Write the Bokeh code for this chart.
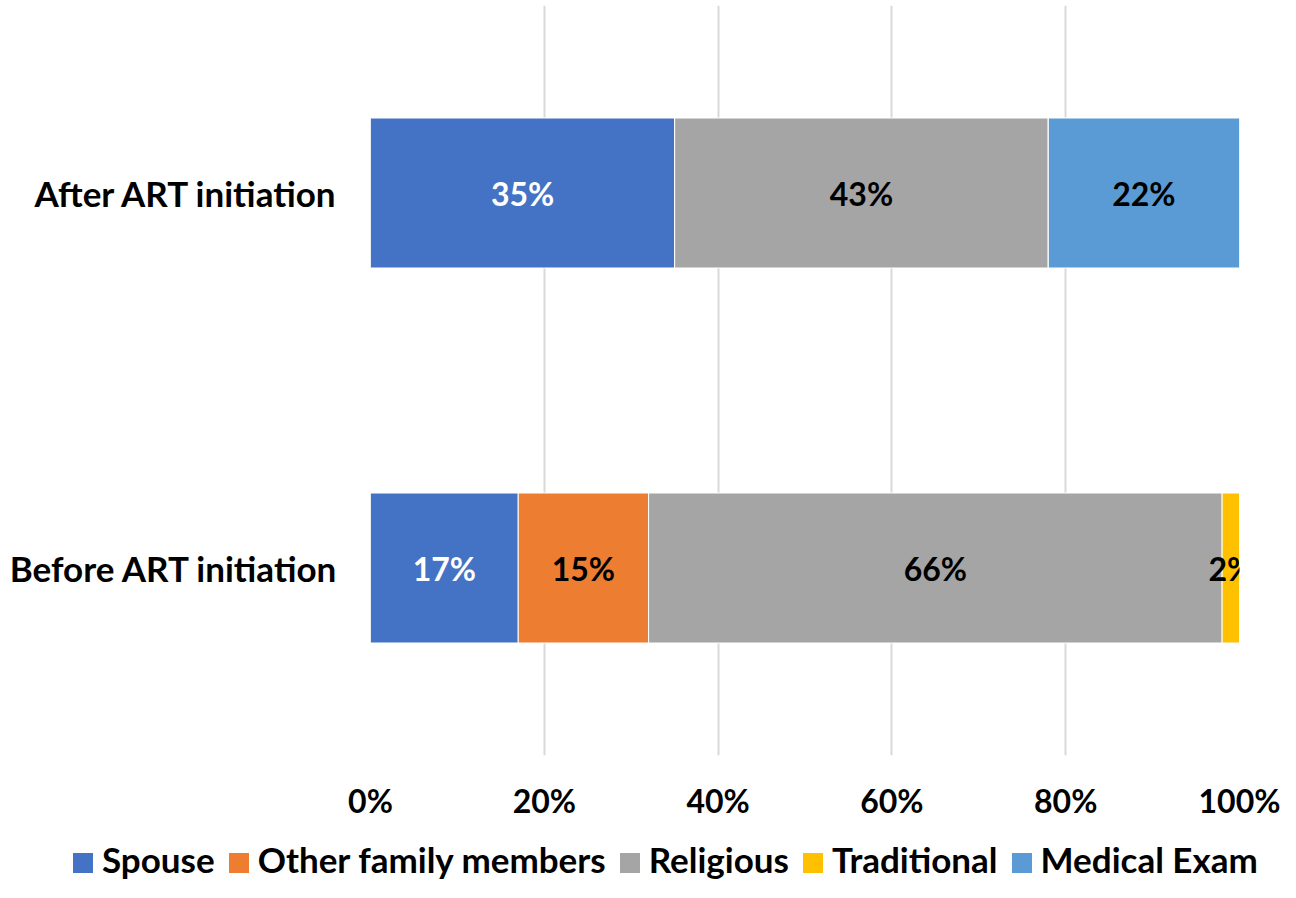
from bokeh.plotting import figure
from bokeh.layouts import column
from bokeh.models import NumeralTickFormatter, ColumnDataSource, FixedTicker, Div
from bokeh.core.properties import value
from bokeh.embed import file_html
from bokeh.resources import INLINE

categories = ["Before ART initiation", "After ART initiation"]
series = ["Spouse", "Other family members", "Religious", "Traditional", "Medical Exam"]
spouse = [0.17, 0.35]
other_family = [0.15, 0.0]
religious = [0.66, 0.43]
traditional = [0.02, 0.0]
medical_exam = [0.0, 0.22]
colors = ["#4472C4", "#ED7D31", "#A5A5A5", "#FFC000", "#5B9BD5"]
label_colors = ["white", "black", "black", "black", "black"]
x_ticks = [0, 0.2, 0.4, 0.6, 0.8, 1.0]

FONT = "Lato"

data = {"cat": categories, "Spouse": spouse, "Other family members": other_family,
        "Religious": religious, "Traditional": traditional, "Medical Exam": medical_exam}
src = ColumnDataSource(data)

p = figure(y_range=categories, x_range=(0, 1), width=1280, height=822,
           output_backend="svg", toolbar_location=None,
           min_border_left=370, min_border_right=41, min_border_top=5, min_border_bottom=60)

renderers = p.hbar_stack(series, y="cat", height=0.4, color=colors, source=src,
                         line_color="white", line_width=1)

values = [spouse, other_family, religious, traditional, medical_exam]
for i, vals in enumerate(values):
    xs, ys, txt = [], [], []
    for j, v in enumerate(vals):
        if v <= 0:
            continue
        left = sum(values[k][j] for k in range(i))
        xs.append(left + v / 2)
        ys.append(categories[j])
        txt.append(f"{round(v * 100)}%")
    if xs:
        p.text(x=xs, y=ys, text=txt, text_align="center", text_baseline="middle",
               text_font=value(FONT), text_font_style="bold", text_font_size="32px",
               text_color=label_colors[i])

p.xaxis.ticker = FixedTicker(ticks=x_ticks)
p.xaxis.formatter = NumeralTickFormatter(format="0%")
for ax in (p.xaxis[0], p.yaxis[0]):
    ax.axis_line_color = None
    ax.major_tick_line_color = None
    ax.minor_tick_line_color = None
    ax.major_label_text_font = FONT
    ax.major_label_text_font_style = "bold"
    ax.major_label_text_color = "black"
p.xaxis.major_label_text_font_size = "32px"
p.yaxis.major_label_text_font_size = "35px"
p.xaxis.major_label_standoff = 19
p.yaxis.major_label_standoff = 26

p.ygrid.grid_line_color = None
p.xgrid.grid_line_color = "#D9D9D9"
p.xgrid.grid_line_width = 2
p.outline_line_color = None

# legend strip below the chart (built from the series names and colours)
items_html = ""
for k, (s, c) in enumerate(zip(series, colors)):
    gap = "" if k == 0 else '<span style="display:inline-block;width:14px;height:1px"></span>'
    items_html += (gap + f'<span style="display:inline-block;width:20px;height:20px;'
                   f'background:{c};margin-right:9px"></span>{s}')
legend_html = (
    '<div style="position:relative;width:1280px;height:60px;">'
    '<div style="position:absolute;left:73px;top:16px;white-space:nowrap;'
    f'font-family:{FONT};font-weight:bold;font-size:35px;line-height:42px;color:black;">'
    + items_html + '</div></div>'
)
legend_div = Div(text=legend_html, width=1280, height=60, margin=(0, 0, 0, 0))

layout = column(p, legend_div, spacing=0)
open("out.html", "w").write(file_html(layout, INLINE))
